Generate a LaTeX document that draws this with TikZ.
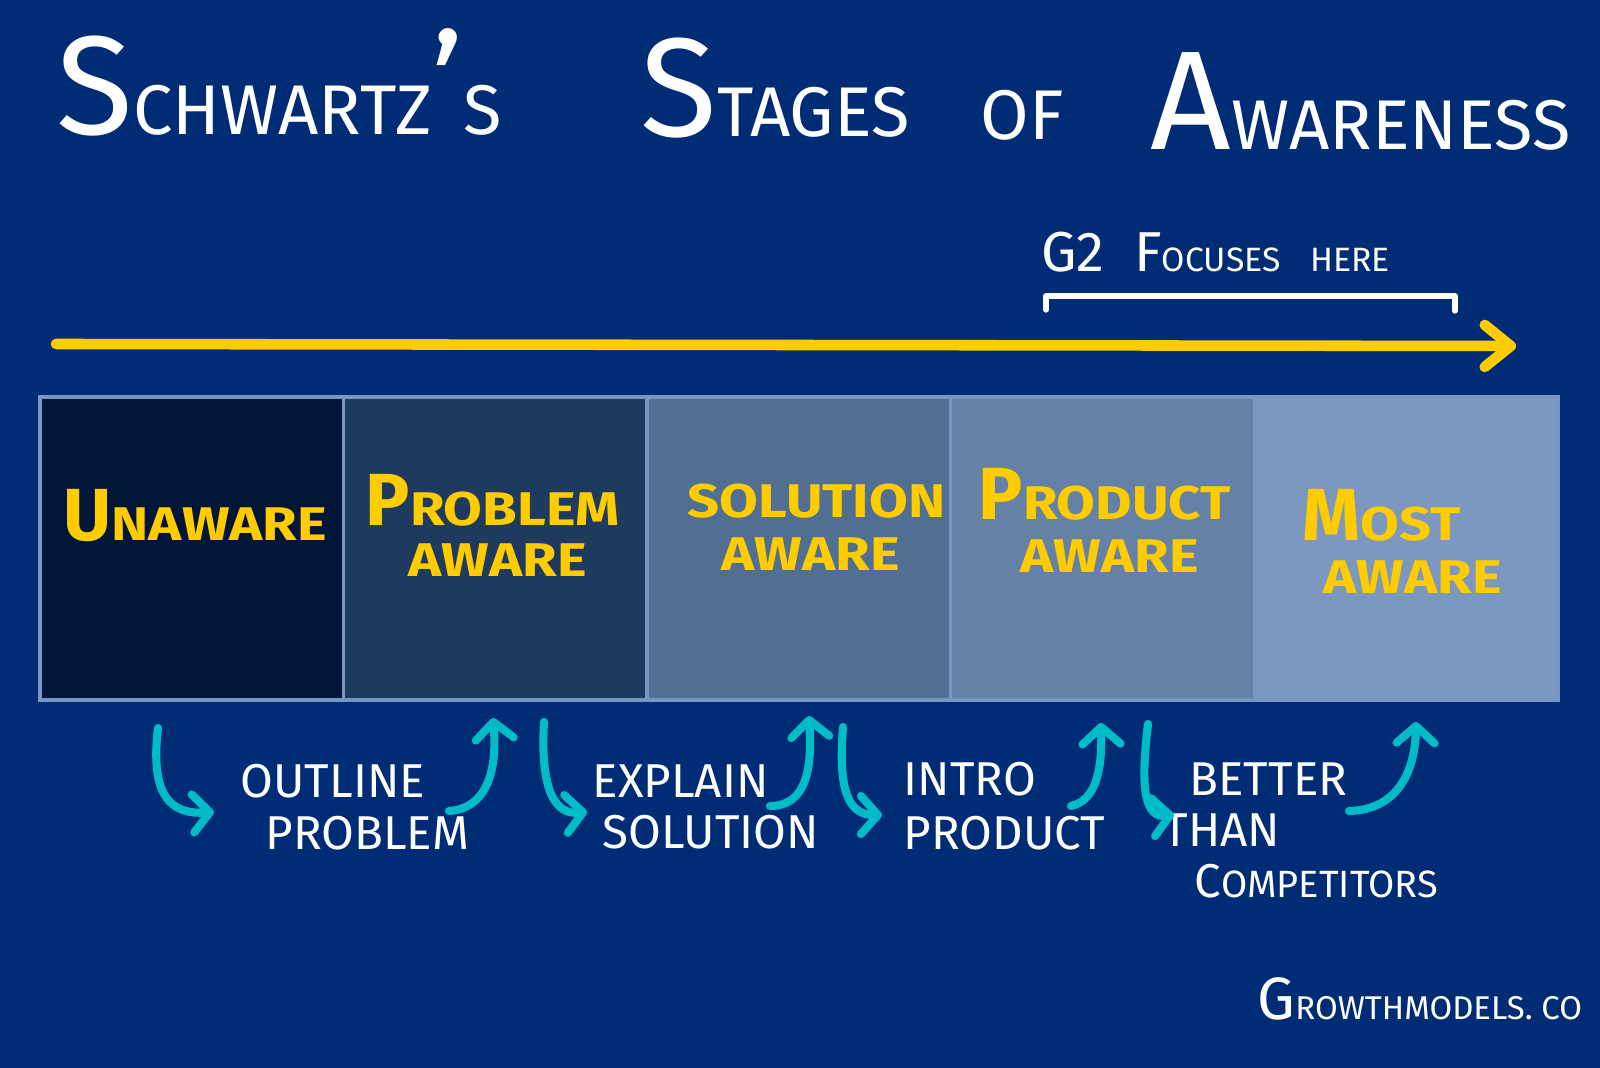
\documentclass[tikz,border=0pt]{standalone}
\usepackage{fontspec}
\setmainfont{Fira Sans}
\usetikzlibrary{arrows.meta}

\definecolor{bgblue}{RGB}{0,44,118}
\definecolor{hiyellow}{RGB}{255,204,0}
\definecolor{hookteal}{RGB}{0,188,200}
\definecolor{framecol}{RGB}{120,150,195}
\definecolor{stageA}{RGB}{0,22,56}
\definecolor{stageB}{RGB}{30,58,95}
\definecolor{stageC}{RGB}{81,110,147}
\definecolor{stageD}{RGB}{101,129,165}
\definecolor{stageE}{RGB}{124,152,190}

% smaller capitals after a big first letter
\newcommand\lo[2][.6]{\scalebox{#1}{#2}}
% wide and low capitals for the stage names
\newcommand\squat[1]{\scalebox{.76}[.64]{#1}}

\tikzset{
  titleword/.style={text=white, anchor=base west, font=\fontsize{40}{44}\selectfont},
  stagebox/.style={draw=framecol, line width=1pt, outer sep=0pt, minimum width=3.034cm,
    minimum height=3.03cm, anchor=north west},
  stagetext/.style={text=hiyellow, anchor=base west, font=\bfseries\fontsize{21}{24}\selectfont},
  hinttext/.style={text=white, anchor=base west, font=\fontsize{13.5}{15}\selectfont},
  hook/.style={draw=hookteal, line width=2.3pt, line cap=round,
    -{Straight Barb[length=1.7mm, width=3.8mm, round]}},
}

\begin{document}
\begin{tikzpicture}[x=0.01cm, y=-0.01cm, inner sep=0pt]
  \fill[bgblue] (0,0) rectangle (1600,1068);

  % title
  \node[titleword] (schwartz) at (56,135) {S\lo[.5]{CHWARTZ}'\lo[.5]{S}};
  \node[titleword] (stages) at (640,137) {S\lo[.5]{TAGES}};
  \node[titleword] (of) at (980,140) {\lo[.5]{OF}};
  \node[titleword] (awareness) at (1150,150) {A\lo[.5]{WARENESS}};

  % focus bracket
  \node[text=white, anchor=base west, font=\fontsize{16}{18}\selectfont] (focus) at (1041,272)
    {G2 \ F\lo{OCUSES} \ \lo{HERE}};
  \coordinate (fl) at (1046,310);
  \coordinate (fr) at (1455,311);
  \draw[white, line width=1.5pt, line cap=round, line join=round] (fl) -- ++(0,-14) -| (fr);

  % timeline
  \coordinate (tl) at (56,344);
  \coordinate (tr) at (1516,346);
  \draw[hiyellow, line width=3pt, line cap=round,
    -{Straight Barb[length=2.6mm, width=4.2mm, round]}] (tl) -- (tr);

  % stages
  \node[stagebox, fill=stageA] (unaware) at (40,397) {};
  \node[stagebox, fill=stageB] (problem) at (unaware.north east) {};
  \node[stagebox, fill=stageC] (solution) at (problem.north east) {};
  \node[stagebox, fill=stageD] (product) at (solution.north east) {};
  \node[stagebox, fill=stageE] (most) at (product.north east) {};

  \node[stagetext] (unawareA) at (63,541) {U\squat{NAWARE}};
  \node[stagetext] (problemA) at (365,526) {P\squat{ROBLEM}};
  \node[stagetext] (problemB) at (408,577) {\squat{AWARE}};
  \node[stagetext] (solutionA) at (687,518) {\squat{SOLUTION}};
  \node[stagetext] (solutionB) at (721,571) {\squat{AWARE}};
  \node[stagetext] (productA) at (978,520) {P\squat{RODUCT}};
  \node[stagetext] (productB) at (1020,573) {\squat{AWARE}};
  \node[stagetext] (mostA) at (1302,541) {M\squat{OST}};
  \node[stagetext] (mostB) at (1323,594) {\squat{AWARE}};

  % moves between stages
  \node[hinttext] (outlineA) at (240,798) {OUTLINE};
  \node[hinttext] (outlineB) at (265,850) {PROBLEM};
  \node[hinttext] (explainA) at (592,798) {EXPLAIN};
  \node[hinttext] (explainB) at (602,849) {SOLUTION};
  \node[hinttext] (introA) at (903,796) {INTRO};
  \node[hinttext] (introB) at (903,850) {PRODUCT};
  \node[hinttext] (betterA) at (1189,796) {BETTER};
  \node[hinttext] (betterB) at (1163,847) {THAN};
  \node[hinttext] (betterC) at (1194,898) {C\lo[.8]{OMPETITORS}};

  \coordinate (h1s) at (158,728);  \coordinate (h1e) at (214,812);
  \coordinate (h2s) at (449,811);  \coordinate (h2e) at (493,718);
  \coordinate (h3s) at (544,722);  \coordinate (h3e) at (587,812);
  \coordinate (h4s) at (770,806);  \coordinate (h4e) at (809,716);
  \coordinate (h5s) at (843,727);  \coordinate (h5e) at (882,815);
  \coordinate (h6s) at (1071,806); \coordinate (h6e) at (1101,723);
  \coordinate (h7s) at (1148,724); \coordinate (h7e) at (1174,815);
  \coordinate (h8s) at (1349,811); \coordinate (h8e) at (1416,722);
  \draw[hook] (h1s) .. controls (150,795) and (170,815) .. (h1e);
  \draw[hook] (h2s) .. controls (490,808) and (497,765) .. (h2e);
  \draw[hook] (h3s) .. controls (540,790) and (555,815) .. (h3e);
  \draw[hook] (h4s) .. controls (808,806) and (812,765) .. (h4e);
  \draw[hook] (h5s) .. controls (838,790) and (848,815) .. (h5e);
  \draw[hook] (h6s) .. controls (1098,800) and (1102,765) .. (h6e);
  \draw[hook] (h7s) .. controls (1140,790) and (1145,818) .. (h7e);
  \draw[hook] (h8s) .. controls (1395,810) and (1415,775) .. (h8e);

  % signature
  \node[text=white, anchor=base west, font=\fontsize{17}{20}\selectfont] (site) at (1257,1020)
    {G\lo[.55]{ROWTHMODELS. CO}};
\end{tikzpicture}
\end{document}
